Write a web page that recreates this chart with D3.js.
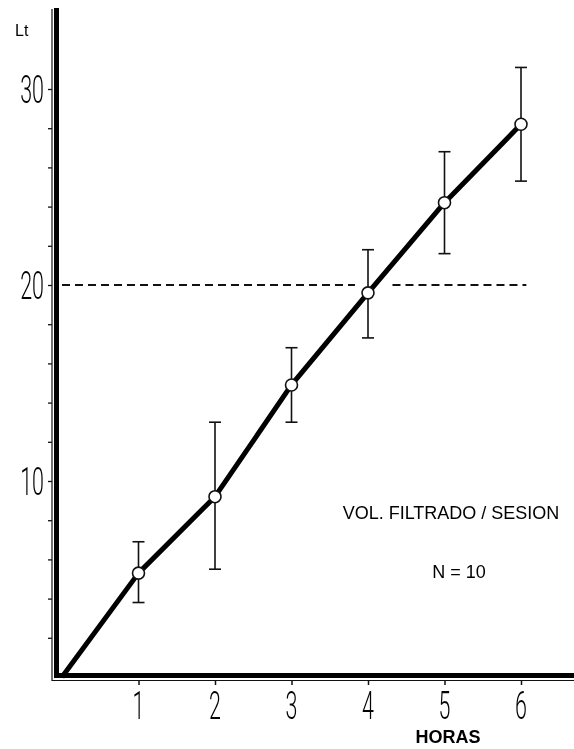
<!DOCTYPE html>
<html>
<head>
<meta charset="utf-8">
<script src="https://cdn.jsdelivr.net/npm/d3@7"></script>
<style>
  body { margin: 0; background: #fff; }
  svg { display: block; }
  .txt { font-family: "Liberation Sans", Arial, sans-serif; fill: #000; }
  .num { font-family: Roboto, "DejaVu Sans", sans-serif; font-weight: 300; fill: #000; }
</style>
</head>
<body>
<div id="chart"></div>
<script>
// data
var hours = [0, 1, 2, 3, 4, 5, 6];
var litres = [0, 5.3, 9.2, 14.9, 19.6, 24.2, 28.2];
var errHigh = [null, 6.9, 13.0, 16.8, 21.8, 26.8, 31.1];
var errLow = [null, 3.8, 5.5, 13.0, 17.3, 21.6, 25.3];
var xTicks = [1, 2, 3, 4, 5, 6];
var yTicks = [2, 4, 6, 8, 10, 12, 14, 16, 18, 20, 22, 24, 26, 28, 30];
var yLabels = [10, 20, 30];
var refLevel = 20;
var refSegments = [[0, 3.83], [4.32, 6.07]];

var width = 574, height = 749;
var svg = d3.select('#chart').append('svg')
	.attr('width', width).attr('height', height);

var x = d3.scaleLinear().domain([0, 6]).range([62, 521]);
var y = d3.scaleLinear().domain([0, 30]).range([677, 89]);

// axes: thin base line + ticks via d3 axis, heavy line drawn alongside
var yAxis = svg.append('g')
	.attr('transform', 'translate(52,0)')
	.call(d3.axisLeft(y).tickValues(yTicks).tickSize(4).tickSizeOuter(0).tickFormat(''));
yAxis.select('.domain').remove();
yAxis.selectAll('line').attr('stroke', '#111').attr('stroke-width', 1.3);

var xAxis = svg.append('g')
	.attr('transform', 'translate(0,680)')
	.call(d3.axisBottom(x).tickValues(xTicks).tickSize(5).tickSizeOuter(0).tickFormat(''));
xAxis.select('.domain').remove();
xAxis.selectAll('line').attr('stroke', '#111').attr('stroke-width', 1.5);

svg.append('line').attr('x1', 52).attr('x2', 52).attr('y1', 9).attr('y2', 681)
	.attr('stroke', '#111').attr('stroke-width', 1.2);
svg.append('line').attr('x1', 56.5).attr('x2', 56.5).attr('y1', 8).attr('y2', 678)
	.attr('stroke', '#000').attr('stroke-width', 5);
svg.append('line').attr('x1', 52).attr('x2', 574).attr('y1', 680.5).attr('y2', 680.5)
	.attr('stroke', '#111').attr('stroke-width', 1.2);
svg.append('line').attr('x1', 54).attr('x2', 574).attr('y1', 675.5).attr('y2', 675.5)
	.attr('stroke', '#000').attr('stroke-width', 5);

// dashed reference at 20 Lt
svg.selectAll('.ref')
	.data(refSegments)
	.enter()
	.append('line')
	.attr('class', 'ref')
	.attr('x1', function(d) { return x(d[0]); })
	.attr('x2', function(d) { return x(d[1]); })
	.attr('y1', y(refLevel)).attr('y2', y(refLevel))
	.attr('stroke', '#111').attr('stroke-width', 1.8)
	.attr('stroke-dasharray', '8,5');

// error bars
var bars = hours.map(function(h, i) {
	return {h: h, hi: errHigh[i], lo: errLow[i]};
}).filter(function(d) { return d.hi != null; });

var eb = svg.append('g').attr('stroke', '#111').attr('stroke-width', 1.6);
eb.selectAll('.stem').data(bars).enter().append('line')
	.attr('x1', function(d) { return x(d.h); }).attr('x2', function(d) { return x(d.h); })
	.attr('y1', function(d) { return y(d.hi); }).attr('y2', function(d) { return y(d.lo); });
eb.selectAll('.capHi').data(bars).enter().append('line')
	.attr('x1', function(d) { return x(d.h) - 6; }).attr('x2', function(d) { return x(d.h) + 6; })
	.attr('y1', function(d) { return y(d.hi); }).attr('y2', function(d) { return y(d.hi); });
eb.selectAll('.capLo').data(bars).enter().append('line')
	.attr('x1', function(d) { return x(d.h) - 6; }).attr('x2', function(d) { return x(d.h) + 6; })
	.attr('y1', function(d) { return y(d.lo); }).attr('y2', function(d) { return y(d.lo); });

// mean line
var line = d3.line()
	.x(function(d, i) { return x(hours[i]); })
	.y(function(d) { return y(d); });
svg.append('path')
	.datum(litres)
	.attr('d', line)
	.attr('fill', 'none')
	.attr('stroke', '#000')
	.attr('stroke-width', 5)
	.attr('stroke-linejoin', 'round');

svg.selectAll('.pt')
	.data(litres.slice(1))
	.enter()
	.append('circle')
	.attr('cx', function(d, i) { return x(hours[i + 1]); })
	.attr('cy', function(d) { return y(d); })
	.attr('r', 6)
	.attr('fill', '#fff')
	.attr('stroke', '#111')
	.attr('stroke-width', 1.6);

// tick labels (tall, narrow numerals); opacity forces grey antialiasing
var labels = svg.append('g').attr('opacity', 0.99);

labels.selectAll('.xl')
	.data(xTicks)
	.enter()
	.append('text')
	.attr('class', 'num')
	.attr('text-anchor', 'middle')
	.attr('transform', function(d) { return 'translate(' + x(d) + ',719) scale(0.55,1)'; })
	.style('font-size', '39px')
	.text(function(d) { return d; });

labels.selectAll('.yl')
	.data(yLabels)
	.enter()
	.append('text')
	.attr('class', 'num')
	.attr('text-anchor', 'end')
	.attr('transform', function(d) { return 'translate(44,' + (y(d) + 14) + ') scale(0.55,1)'; })
	.style('font-size', '39px')
	.text(function(d) { return d; });

// titles
svg.append('text').attr('class', 'txt')
	.attr('x', 15).attr('y', 36)
	.style('font-size', '16px')
	.text('Lt');

svg.append('text').attr('class', 'txt')
	.attr('x', 448).attr('y', 743)
	.attr('text-anchor', 'middle')
	.style('font-size', '18px').style('font-weight', 'bold')
	.text('HORAS');

svg.append('text').attr('class', 'txt')
	.attr('x', 451).attr('y', 519)
	.attr('text-anchor', 'middle')
	.style('font-size', '18px')
	.text('VOL. FILTRADO / SESION');

svg.append('text').attr('class', 'txt')
	.attr('x', 459).attr('y', 578)
	.attr('text-anchor', 'middle')
	.style('font-size', '18px')
	.text('N = 10');
</script>
</body>
</html>
